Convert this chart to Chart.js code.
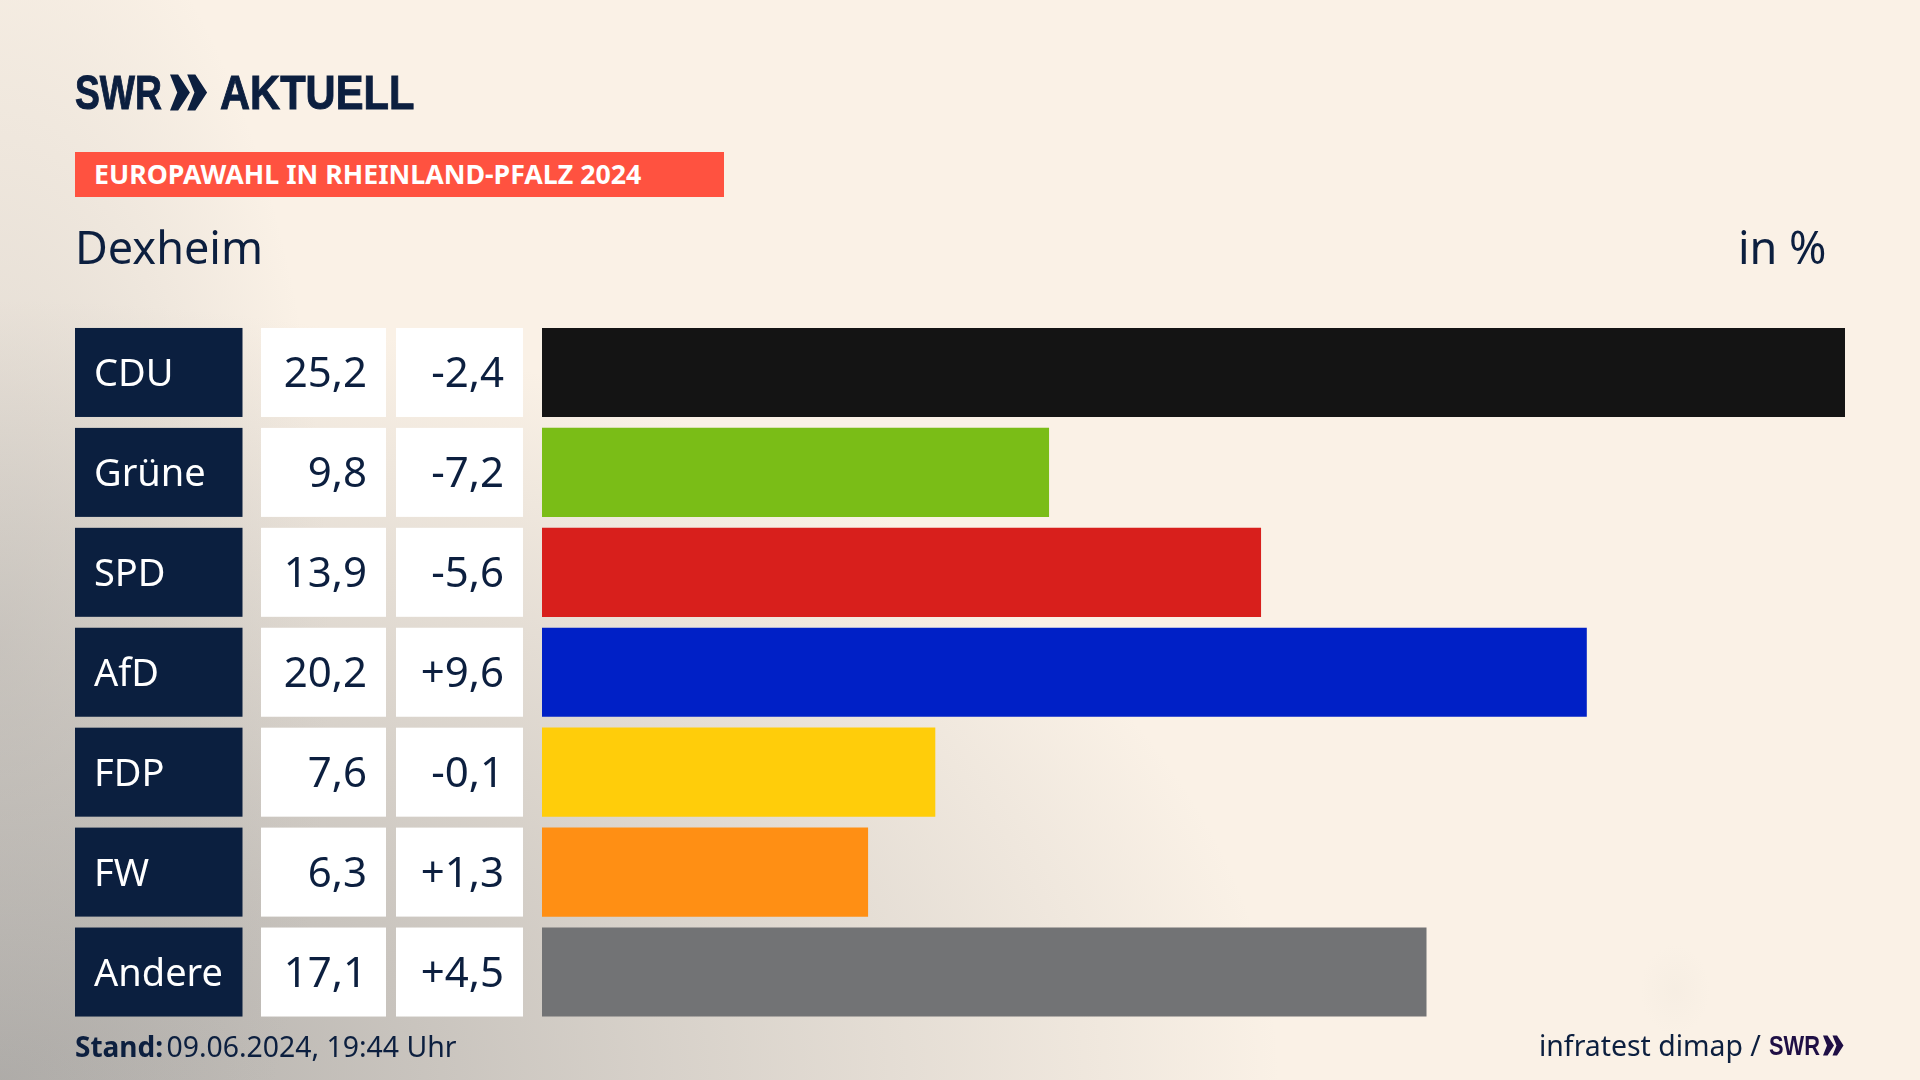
<!DOCTYPE html>
<html lang="de">
<head>
<meta charset="utf-8">
<title>Europawahl Dexheim</title>
<script src="https://cdn.jsdelivr.net/npm/chart.js@4"></script>
<style>
html, body { margin: 0; padding: 0; }
body {
  width: 1920px; height: 1080px; overflow: hidden; position: relative;
  font-family: "Noto Sans", sans-serif; color: #0c1f3f;
  background:
    radial-gradient(ellipse 35px 45px at 1675px 990px, rgba(225,218,208,.14) 0%, rgba(225,218,208,0) 100%),
    radial-gradient(ellipse 330px 800px at 0 60%, rgba(170,168,165,.38) 0%, rgba(190,186,180,0) 100%),
    radial-gradient(ellipse 1280px 780px at 0 100%, rgba(140,140,140,.68) 0%, rgba(170,168,165,.45) 50%, rgba(200,195,188,0) 100%),
    #faf1e6;
}
canvas { position: absolute; left: 0; top: 0; }
.t { position: absolute; white-space: nowrap; transform-origin: left top; }
.logo { font: bold 49px "Liberation Sans", sans-serif; -webkit-text-stroke: 1px #0c1f3f; }
</style>
</head>
<body>
<canvas id="chart" width="1920" height="1080"></canvas>

<div class="t logo" style="left:75px;top:64px;transform:scaleX(.76);">SWR</div>
<svg style="position:absolute;left:170px;top:73px" width="38" height="39" viewBox="0 0 42 40">
  <polygon points="0,0 9,0 22,20 9,40 0,40 8,20" fill="#0c1f3f"/>
  <polygon points="19,0 28,0 41,20 28,40 19,40 27,20" fill="#0c1f3f"/>
</svg>
<div class="t logo" style="left:220px;top:64px;transform:scaleX(.85);">AKTUELL</div>

<div style="position:absolute;left:75px;top:152px;width:649px;height:45px;background:#ff5240;"></div>
<div class="t" style="left:94px;top:155px;font:bold 27px 'Noto Sans';color:#fff;transform:scaleX(.99);">EUROPAWAHL IN RHEINLAND-PFALZ 2024</div>

<div class="t" style="left:75px;top:216px;font-size:45px;">Dexheim</div>
<div class="t" style="left:1738px;top:216px;font-size:45px;">in %</div>

<div class="t" style="left:75px;top:1027px;font-size:28px;"><b>Stand:</b> <span style="font-size:28.4px;margin-left:-4px;">09.06.2024, 19:44 Uhr</span></div>
<div class="t" style="left:1539px;top:1026px;font-size:28.4px;">infratest dimap /</div>
<div class="t" style="left:1769px;top:1030px;font:bold 28px 'Liberation Sans',sans-serif;color:#1f0f45;transform:scaleX(.78);">SWR</div>
<svg style="position:absolute;left:1823px;top:1035px" width="21" height="21" viewBox="0 0 42 40">
  <polygon points="0,0 9,0 22,20 9,40 0,40 8,20" fill="#1f0f45"/>
  <polygon points="19,0 28,0 41,20 28,40 19,40 27,20" fill="#1f0f45"/>
</svg>

<script>
const categories = ['CDU', 'Grüne', 'SPD', 'AfD', 'FDP', 'FW', 'Andere'];
const shares = [25.2, 9.8, 13.9, 20.2, 7.6, 6.3, 17.1];
const changes = [-2.4, -7.2, -5.6, 9.6, -0.1, 1.3, 4.5];
const barColors = ['#141414', '#7abd17', '#d81f1c', '#0020c6', '#ffcd0a', '#ff8f14', '#727375'];

function comma(v) {
  return v.toFixed(1).replace('.', ',');
}
function signed(v) {
  return (v > 0 ? '+' : '-') + comma(Math.abs(v));
}

// table cells left of the bars, rows follow the y scale
const tableCells = {
  id: 'tableCells',
  afterDatasetsDraw(chart) {
    const ctx = chart.ctx;
    const y = chart.scales.y;
    const h = 89;
    ctx.save();
    ctx.textBaseline = 'alphabetic';
    categories.forEach((name, i) => {
      const cy = y.getPixelForValue(i);
      const top = cy - h / 2;
      ctx.fillStyle = '#0b1f3f';
      ctx.fillRect(75, top, 167.5, h);
      ctx.fillStyle = '#fff';
      ctx.fillRect(261, top, 125, h);
      ctx.fillRect(396, top, 127, h);
      ctx.font = '38px "Noto Sans"';
      ctx.textAlign = 'left';
      ctx.fillText(name, 94, cy + 14);
      ctx.fillStyle = '#0c1f3f';
      ctx.font = '42px "Noto Sans"';
      ctx.textAlign = 'right';
      ctx.fillText(comma(shares[i]), 367, cy + 15);
      ctx.fillText(signed(changes[i]), 504, cy + 15);
    });
    ctx.restore();
  }
};

new Chart(document.getElementById('chart'), {
  type: 'bar',
  data: {
    labels: categories,
    datasets: [{
      data: shares,
      backgroundColor: barColors,
      barThickness: 88.5,
      borderWidth: 0
    }]
  },
  options: {
    indexAxis: 'y',
    responsive: false,
    animation: false,
    devicePixelRatio: 1,
    layout: { padding: { left: 542, right: 75, top: 322.5, bottom: 58 } },
    plugins: { legend: { display: false }, tooltip: { enabled: false } },
    scales: {
      x: { display: false, min: 0, max: 25.2 },
      y: { display: false }
    }
  },
  plugins: [tableCells]
});
</script>
</body>
</html>
